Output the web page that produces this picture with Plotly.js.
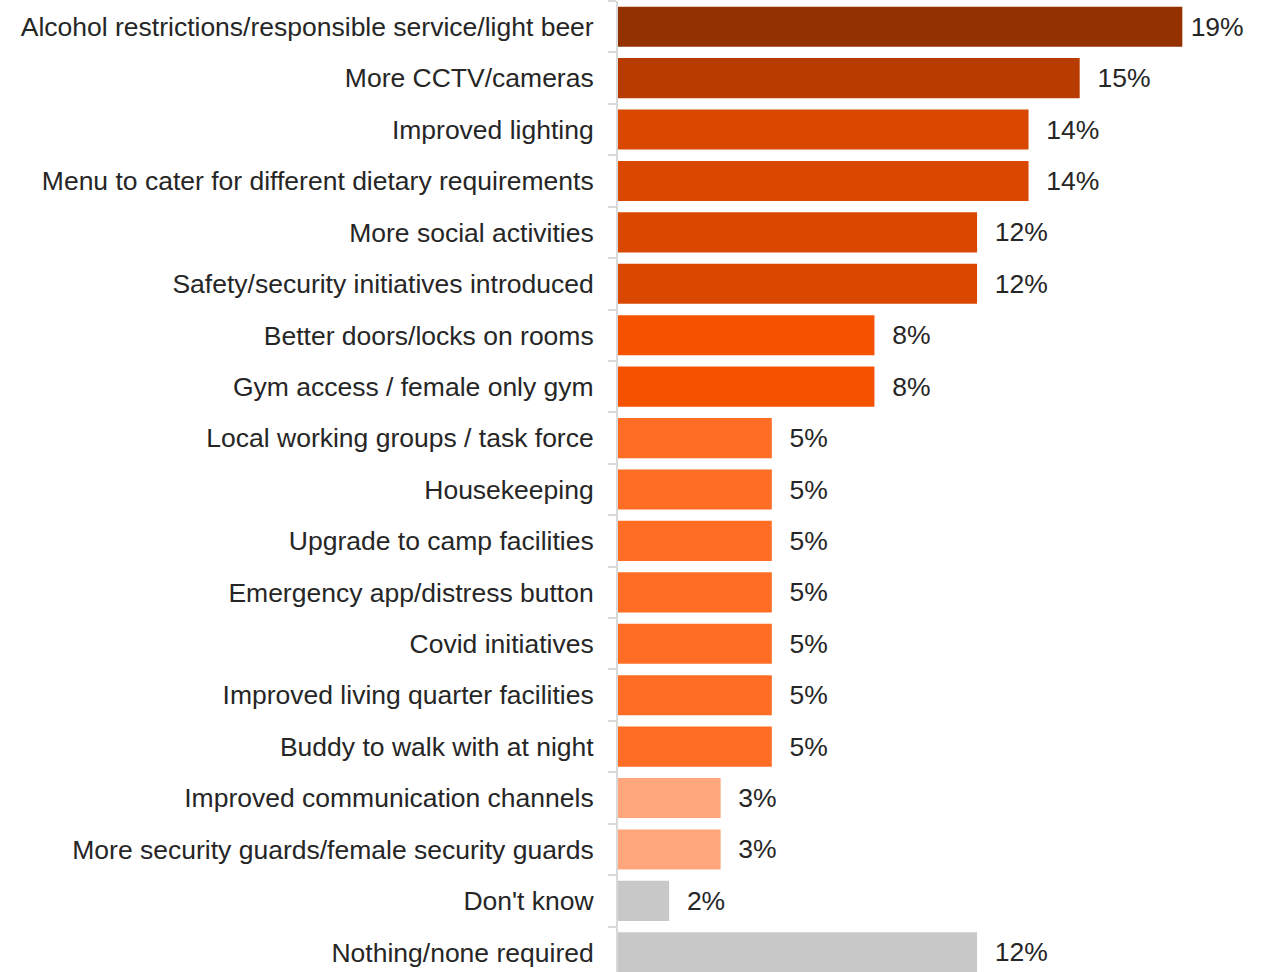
<!DOCTYPE html>
<html>
<head>
<meta charset="utf-8">
<script src="https://cdn.plot.ly/plotly-3.0.1.min.js"></script>
<style>html,body{margin:0;padding:0;overflow:hidden;background:#fff}#chart{width:1268px;height:978px}</style>
</head>
<body>
<div id="chart"></div>
<script>
const categories = [
  "Alcohol restrictions/responsible service/light beer",
  "More CCTV/cameras",
  "Improved lighting",
  "Menu to cater for different dietary requirements",
  "More social activities",
  "Safety/security initiatives introduced",
  "Better doors/locks on rooms",
  "Gym access / female only gym",
  "Local working groups / task force",
  "Housekeeping",
  "Upgrade to camp facilities",
  "Emergency app/distress button",
  "Covid initiatives",
  "Improved living quarter facilities",
  "Buddy to walk with at night",
  "Improved communication channels",
  "More security guards/female security guards",
  "Don't know",
  "Nothing/none required"
];
const values = [18.64, 15.25, 13.56, 13.56, 11.86, 11.86, 8.47, 8.47, 5.08, 5.08, 5.08, 5.08, 5.08, 5.08, 5.08, 3.39, 3.39, 1.69, 11.86];
const barColors = [
  "#933100", "#B83C00", "#DA4800", "#DA4800", "#DA4800", "#DA4800",
  "#F55200", "#F55200",
  "#FF6C23", "#FF6C23", "#FF6C23", "#FF6C23", "#FF6C23", "#FF6C23", "#FF6C23",
  "#FFA67C", "#FFA67C",
  "#C8C8C8", "#C8C8C8"
];
const labels = values.map(v => (v > 17 ? "\u2009" : "\u00a0\u00a0") + Math.round(v) + "%");

const trace = {
  type: "bar",
  orientation: "h",
  y: categories,
  x: values,
  marker: {color: barColors},
  text: labels,
  textposition: "outside",
  cliponaxis: false,
  textfont: {family: "Liberation Sans, Arial, sans-serif", size: 26.5, color: "#262626"},
  hoverinfo: "skip"
};

const layout = {
  width: 1268,
  height: 978,
  margin: {l: 618, r: 0, t: 1, b: 0},
  paper_bgcolor: "#ffffff",
  plot_bgcolor: "#ffffff",
  showlegend: false,
  bargap: 0.22,
  font: {family: "Liberation Sans, Arial, sans-serif", size: 26.5, color: "#262626"},
  xaxis: {
    range: [0, 21.47],
    visible: false,
    showgrid: false,
    zeroline: false
  },
  yaxis: {
    type: "category",
    autorange: "reversed",
    showline: true,
    linecolor: "#d9d9d9",
    linewidth: 2,
    ticks: "outside",
    tickson: "boundaries",
    ticklen: 8,
    tickcolor: "#d9d9d9",
    tickwidth: 2,
    showgrid: false,
    zeroline: false,
    ticklabelstandoff: 17,
    tickfont: {family: "Liberation Sans, Arial, sans-serif", size: 26.5, color: "#262626"}
  }
};

Plotly.newPlot("chart", [trace], layout, {displayModeBar: false, staticPlot: true});
</script>
</body>
</html>
